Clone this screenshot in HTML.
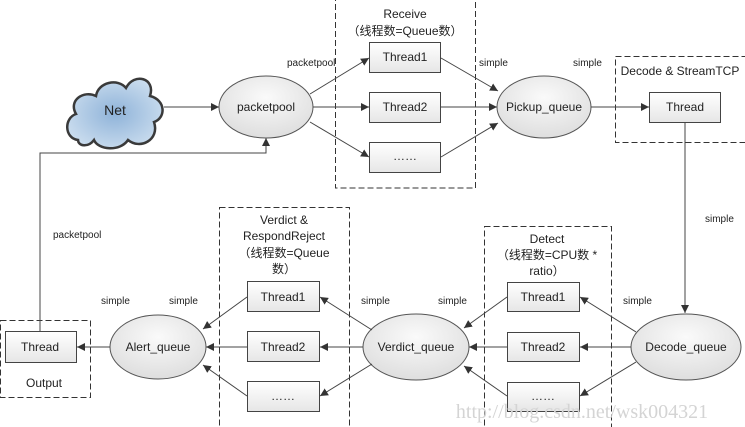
<!DOCTYPE html>
<html><head><meta charset="utf-8"><style>
html,body{margin:0;padding:0;background:#fff;}
svg{display:block;}
text{font-family:"Liberation Sans","Noto Sans CJK SC",sans-serif;fill:#222;}
</style></head><body>
<svg width="745" height="427" viewBox="0 0 745 427" xmlns="http://www.w3.org/2000/svg">
<defs>
<linearGradient id="bx" x1="0" y1="0" x2="0" y2="1"><stop offset="0" stop-color="#ffffff"/><stop offset="1" stop-color="#e6e6e6"/></linearGradient>
<radialGradient id="el" cx="0.5" cy="0.35" r="0.7"><stop offset="0" stop-color="#fafafa"/><stop offset="1" stop-color="#dcdcdc"/></radialGradient>
<radialGradient id="cl" cx="0.5" cy="0.5" r="0.6"><stop offset="0" stop-color="#8fb3d9"/><stop offset="1" stop-color="#cfe0f0"/></radialGradient>
<marker id="a" viewBox="0 0 10 10" refX="10" refY="5" markerWidth="8" markerHeight="8" orient="auto" markerUnits="userSpaceOnUse"><path d="M0,0 L10,5 L0,10 z" fill="#333"/></marker>
</defs>
<g fill="none" stroke="#333" stroke-dasharray="6,3" stroke-width="1">
<rect x="335.5" y="-2" width="140" height="190"/>
<rect x="615.5" y="56.5" width="130" height="86"/>
<rect x="219.5" y="207.5" width="130" height="222"/>
<rect x="484.5" y="226.5" width="127" height="202"/>
<rect x="0.5" y="320.5" width="90" height="77"/>
</g>
<!-- cloud -->
<path d="M78,140 C64,138 64,118 76,114 C68,100 84,90 96,96 C98,82 118,78 126,88 C134,72 156,78 150,96 C166,100 166,118 154,122 C160,140 140,150 128,140 C120,152 98,150 94,140 C88,148 78,146 78,140 Z" fill="url(#cl)" stroke="#3a3a3a" stroke-width="2.5"/>
<text x="115" y="115" font-size="14" text-anchor="middle" fill="#111">Net</text>
<!-- ellipses -->
<g stroke="#555" fill="url(#el)">
<ellipse cx="266" cy="107" rx="47" ry="31"/>
<ellipse cx="544" cy="107" rx="47" ry="31"/>
<ellipse cx="686" cy="347" rx="55" ry="33"/>
<ellipse cx="416" cy="347" rx="53" ry="33"/>
<ellipse cx="158" cy="347" rx="48" ry="32"/>
</g>
<g font-size="12" text-anchor="middle">
<text x="266" y="111">packetpool</text>
<text x="544" y="111">Pickup_queue</text>
<text x="686" y="351">Decode_queue</text>
<text x="416" y="351">Verdict_queue</text>
<text x="158" y="351">Alert_queue</text>
</g>
<!-- boxes -->
<g stroke="#444" fill="url(#bx)">
<rect x="369.5" y="42.5" width="71" height="30"/>
<rect x="369.5" y="92.5" width="71" height="30"/>
<rect x="369.5" y="142.5" width="71" height="30"/>
<rect x="649.5" y="92.5" width="71" height="30"/>
<rect x="507.5" y="282.5" width="72" height="29"/>
<rect x="507.5" y="332.5" width="72" height="29"/>
<rect x="507.5" y="382.5" width="72" height="29"/>
<rect x="247.5" y="281.5" width="72" height="30"/>
<rect x="247.5" y="331.5" width="72" height="30"/>
<rect x="247.5" y="381.5" width="72" height="30"/>
<rect x="5.5" y="331.5" width="71" height="31"/>
</g>
<g font-size="12" text-anchor="middle">
<text x="405" y="61">Thread1</text>
<text x="405" y="111">Thread2</text>
<text x="405" y="160">……</text>
<text x="685" y="111">Thread</text>
<text x="543" y="301">Thread1</text>
<text x="543" y="351">Thread2</text>
<text x="543" y="400">……</text>
<text x="283" y="301">Thread1</text>
<text x="283" y="351">Thread2</text>
<text x="283" y="400">……</text>
<text x="40" y="351">Thread</text>
<text x="405" y="18">Receive</text>
<text x="405" y="35">（线程数=Queue数）</text>
<text x="680" y="75">Decode &amp; StreamTCP</text>
<text x="284" y="224">Verdict &amp;</text>
<text x="284" y="240">RespondReject</text>
<text x="284" y="257">（线程数=Queue</text>
<text x="284" y="273">数）</text>
<text x="547" y="243">Detect</text>
<text x="547" y="259">（线程数=CPU数 *</text>
<text x="547" y="275">ratio）</text>
<text x="44" y="387">Output</text>
</g>
<g font-size="10">
<text x="287" y="66">packetpool</text>
<text x="479" y="66">simple</text>
<text x="573" y="66">simple</text>
<text x="705" y="222">simple</text>
<text x="623" y="304">simple</text>
<text x="438" y="304">simple</text>
<text x="361" y="304">simple</text>
<text x="169" y="304">simple</text>
<text x="101" y="304">simple</text>
<text x="53" y="238">packetpool</text>
</g>
<!-- connectors -->
<g stroke="#444" stroke-width="1" fill="none" marker-end="url(#a)">
<line x1="164" y1="107" x2="219" y2="107"/>
<line x1="310" y1="94" x2="369" y2="58"/>
<line x1="313" y1="107" x2="369" y2="107"/>
<line x1="310" y1="122" x2="369" y2="157"/>
<line x1="441" y1="58" x2="498" y2="91"/>
<line x1="441" y1="107" x2="497" y2="107"/>
<line x1="441" y1="157" x2="498" y2="123"/>
<line x1="591" y1="107" x2="649" y2="107"/>
<polyline points="685,123 685,313"/>
<line x1="636" y1="332" x2="580" y2="297"/>
<line x1="631" y1="347" x2="580" y2="347"/>
<line x1="636" y1="362" x2="580" y2="396"/>
<line x1="507" y1="297" x2="464" y2="328"/>
<line x1="507" y1="347" x2="469" y2="347"/>
<line x1="507" y1="396" x2="464" y2="366"/>
<line x1="372" y1="330" x2="320" y2="297"/>
<line x1="363" y1="347" x2="320" y2="347"/>
<line x1="372" y1="364" x2="320" y2="396"/>
<line x1="247" y1="297" x2="203" y2="329"/>
<line x1="247" y1="347" x2="206" y2="347"/>
<line x1="247" y1="396" x2="203" y2="365"/>
<line x1="110" y1="347" x2="77" y2="347"/>
<polyline points="40,331 40,153 266,153 266,138"/>
</g>
<text x="582" y="418" font-size="20" text-anchor="middle" style="font-family:'Liberation Serif',serif;fill:#d4d4d4">http://blog.csdn.net/wsk004321</text>
</svg>
</body></html>
